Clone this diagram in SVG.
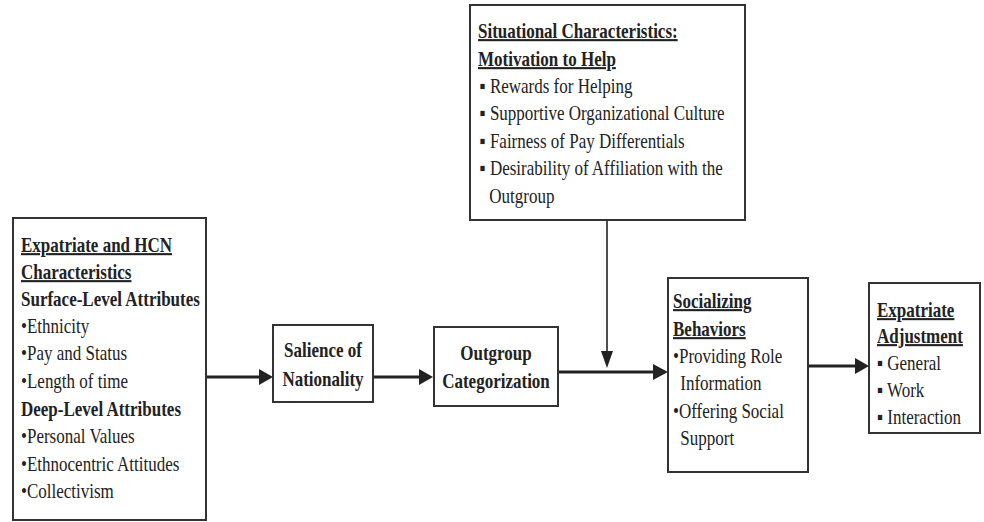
<svg xmlns="http://www.w3.org/2000/svg" width="984" height="522" viewBox="0 0 984 522">
  <style>
    .box { fill: #ffffff; stroke: #333333; stroke-width: 2; }
    text { font-family: "Liberation Serif", "Times New Roman", serif; font-size: 21px; fill: #222222; }
    .b { font-weight: bold; }
    .u { font-weight: bold; text-decoration: underline; }
    .c { text-anchor: middle; }
    .link { stroke: #222222; stroke-width: 3; fill: none; }
    .thin { stroke: #222222; stroke-width: 1.6; fill: none; }
    .head { fill: #222222; }
  </style>
  <rect width="984" height="522" fill="#ffffff"/>

  <!-- connectors -->
  <g id="connectors">
    <line class="link" x1="207" y1="377" x2="262" y2="377"/>
    <polygon class="head" points="259,369 273,377 259,385"/>
    <line class="link" x1="374" y1="377" x2="422" y2="377"/>
    <polygon class="head" points="419,369 433,377 419,385"/>
    <line class="link" x1="559" y1="372" x2="656" y2="372"/>
    <polygon class="head" points="653,364 668,372 653,380"/>
    <line class="link" x1="809" y1="366" x2="858" y2="366"/>
    <polygon class="head" points="855,358 869,366 855,374"/>
    <line class="thin" x1="607" y1="220" x2="607" y2="356"/>
    <polygon class="head" points="601,351 607,368 613,351"/>
  </g>

  <!-- attributes of expatriates and host-country nationals -->
  <g id="node-characteristics">
    <rect class="box" x="13" y="218" width="193" height="302"/>
    <g transform="translate(21,0) scale(0.81,1)">
      <text class="u" x="0" y="252">Expatriate and HCN</text>
      <text class="u" x="0" y="279">Characteristics</text>
      <text class="b" x="0" y="306">Surface-Level Attributes</text>
      <text x="0" y="333">•Ethnicity</text>
      <text x="0" y="360">•Pay and Status</text>
      <text x="0" y="388">•Length of time</text>
      <text class="b" x="0" y="416">Deep-Level Attributes</text>
      <text x="0" y="443">•Personal Values</text>
      <text x="0" y="471">•Ethnocentric Attitudes</text>
      <text x="0" y="498">•Collectivism</text>
    </g>
  </g>

  <g id="node-salience">
    <rect class="box" x="273" y="325" width="100" height="77"/>
    <g transform="translate(323,0) scale(0.81,1)">
      <text class="b c" x="0" y="357">Salience of</text>
      <text class="b c" x="0" y="386">Nationality</text>
    </g>
  </g>

  <g id="node-outgroup">
    <rect class="box" x="434" y="327" width="124" height="79"/>
    <g transform="translate(496,0) scale(0.81,1)">
      <text class="b c" x="0" y="360">Outgroup</text>
      <text class="b c" x="0" y="388">Categorization</text>
    </g>
  </g>

  <g id="node-situational">
    <rect class="box" x="470" y="5" width="275" height="215"/>
    <g transform="translate(478,0) scale(0.81,1)">
      <text class="u" x="0" y="38">Situational Characteristics:</text>
      <text class="u" x="0" y="66">Motivation to Help</text>
      <text x="2" y="93">▪ Rewards for Helping</text>
      <text x="2" y="120">▪ Supportive Organizational Culture</text>
      <text x="2" y="148">▪ Fairness of Pay Differentials</text>
      <text x="2" y="175">▪ Desirability of Affiliation with the</text>
      <text x="14" y="203">Outgroup</text>
    </g>
  </g>

  <g id="node-socializing">
    <rect class="box" x="668" y="278" width="140" height="194"/>
    <g transform="translate(673,0) scale(0.81,1)">
      <text class="u" x="0" y="308">Socializing</text>
      <text class="u" x="0" y="336">Behaviors</text>
      <text x="0" y="363">•Providing Role</text>
      <text x="9" y="390">Information</text>
      <text x="0" y="418">•Offering Social</text>
      <text x="9" y="445">Support</text>
    </g>
  </g>

  <g id="node-adjustment">
    <rect class="box" x="869" y="283" width="111" height="150"/>
    <g transform="translate(877,0) scale(0.81,1)">
      <text class="u" x="0" y="317">Expatriate</text>
      <text class="u" x="0" y="343">Adjustment</text>
      <text x="0" y="370">▪ General</text>
      <text x="0" y="397">▪ Work</text>
      <text x="0" y="424">▪ Interaction</text>
    </g>
  </g>
</svg>
